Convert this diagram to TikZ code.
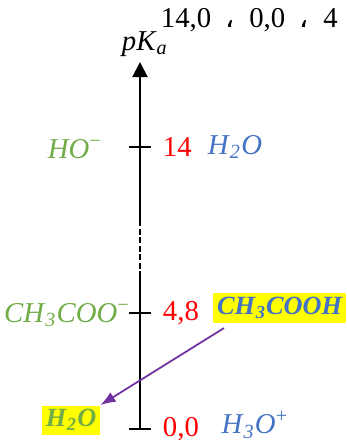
\documentclass[tikz,border=0pt]{standalone}
\usepackage{fontspec}
\setmainfont{Liberation Serif}
\usepackage{tikz}
\usetikzlibrary{arrows.meta,positioning,calc}
\TeXXeTstate=1
\newfontfamily\arabicfont[Script=Arabic]{DejaVu Sans}
\definecolor{conjgreen}{HTML}{70AD47}
\definecolor{acidblue} {HTML}{4472C4}
\definecolor{pkared}   {HTML}{FF0000}
\definecolor{reacpurp} {HTML}{7030A0}
\definecolor{hilite}   {HTML}{FFFF00}
\newcommand{\chem}[1]{\textit{#1}}
\newcommand{\sub}[1]{\textsubscript{\itshape #1}}
\newcommand{\chg}[1]{\textsuperscript{#1}}

\begin{document}
\begin{tikzpicture}[x=0.4pt,y=-0.4pt,
    lab/.style={font=\fontsize{11.5}{13}\selectfont, inner sep=1pt},
    axisline/.style={line width=0.8pt, black},
    hilabel/.style={lab, fill=hilite, inner sep=1.5pt, font=\fontsize{10.5}{12}\selectfont\bfseries}]
  \useasboundingbox (0,0) rectangle (347,443);
  % pKa axis
  \coordinate (bot)  at (140,429);
  \coordinate (gapA) at (140,277);
  \coordinate (gapB) at (140,220);
  \coordinate (top)  at (140,62);
  \draw[axisline] (bot) -- (gapA);
  \draw[axisline, dash pattern=on 2.4pt off 1pt] (gapA) -- (gapB);
  \draw[axisline, -{Triangle[length=6pt, width=6pt]}] (gapB) -- (top);
  \node[lab] (pka) at (145,44) {\chem{pK}\sub{a}};
  \node[lab, anchor=west] (list) at (158,20)
    {14,0 \ {\arabicfont ،}\ \ 0,0 \ {\arabicfont ،}\ \ 4};
  % ticks and values
  \foreach \y/\v/\k in {147/14/hi, 313/{4,8}/mid, 429/{0,0}/lo}{
    \draw[axisline] (129,\y) -- (151,\y);
    \node[lab, color=pkared, anchor=west] (val\k) at (160,\y) {\v};
  }
  % pairs
  \node[lab, color=conjgreen] (hydrox) at (75,149)  {\chem{HO}\chg{−}};
  \node[lab, color=acidblue]  (water)  at (235,147) {\chem{H}\sub{2}\chem{O}};
  \node[lab, color=conjgreen] (acetat) at (67,315)  {\chem{CH}\sub{3}\chem{COO}\chg{−}};
  \node[hilabel, text=acidblue, anchor=east] (acid) at (347,308) {\chem{CH}\sub{3}\chem{COOH}};
  \node[hilabel, text=conjgreen] (base) at (71,420) {\chem{H}\sub{2}\chem{O}};
  \node[lab, color=acidblue]  (hydron) at (255,425) {\chem{H}\sub{3}\chem{O}\chg{+}};
  % reaction
  \draw[reacpurp, line width=0.7pt, -{Latex[length=6pt, width=4.5pt]}]
    ([shift={(11,5)}]acid.south west) -- (base.north east);
\end{tikzpicture}
\end{document}
